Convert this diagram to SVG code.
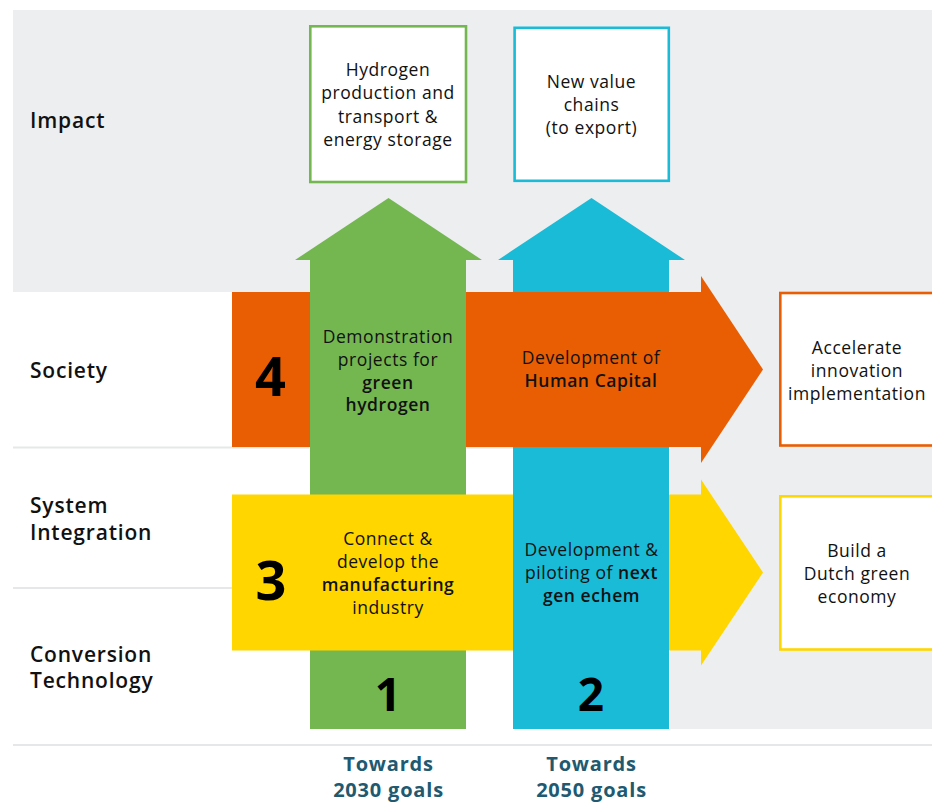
<svg xmlns="http://www.w3.org/2000/svg" width="932" height="802" viewBox="0 0 932 802">
  <style>
    .row { font-family: "Open Sans", "Noto Sans", sans-serif; font-size: 21px; font-weight: 600; fill: #111; letter-spacing: 0.8px; }
    .txt { font-family: "Open Sans", "Noto Sans", sans-serif; font-size: 17.5px; font-weight: 400; fill: #111; text-anchor: middle; letter-spacing: 0.55px; }
    .b { font-weight: 600; }
    .num { font-family: "Open Sans", "Noto Sans", sans-serif; font-weight: 700; fill: #000; text-anchor: middle; }
    .goal { font-family: "Open Sans", "Noto Sans", sans-serif; font-size: 20px; font-weight: 700; fill: #215a70; text-anchor: middle; letter-spacing: 0.8px; }
    .box { fill: #fff; stroke-width: 2.6; }
    .sep { stroke: #e6e7e8; stroke-width: 2; }
  </style>

  <!-- background bands -->
  <g id="background">
    <rect x="0" y="0" width="932" height="802" fill="#fff"/>
    <rect x="13" y="10" width="919" height="282" fill="#eceef0"/>
    <rect x="670" y="292" width="262" height="437" fill="#eceef0"/>
    <line class="sep" x1="13" y1="447.5" x2="670" y2="447.5"/>
    <line class="sep" x1="13" y1="588" x2="670" y2="588"/>
    <line class="sep" x1="13" y1="745" x2="932" y2="745"/>
  </g>

  <!-- row labels -->
  <g id="rows">
    <text class="row" x="30" y="128">Impact</text>
    <text class="row" x="30" y="378">Society</text>
    <text class="row" x="30" y="513">System</text>
    <text class="row" x="30" y="540">Integration</text>
    <text class="row" x="30" y="662">Conversion</text>
    <text class="row" x="30" y="688">Technology</text>
  </g>

  <!-- woven arrows -->
  <g id="connectors">
    <g id="arrow-2">
      <polygon points="513,729 513,260 498,260 591.5,198 685,260 669,260 669,729" fill="#19bbd7"/>
    </g>
    <g id="arrow-4">
      <polygon points="232,292 701,292 701,276 763,369.5 701,463 701,447 232,447" fill="#ea5e03"/>
      <text class="num" x="270.5" y="396" font-size="54">4</text>
      <text class="txt" x="591" y="364">Development of</text>
      <text class="txt b" x="591" y="387">Human Capital</text>
    </g>
    <g id="arrow-1">
      <polygon points="310,729 310,260 295,260 388.5,198 482,260 466,260 466,729" fill="#74b751"/>
      <text class="txt" x="388" y="342.5">Demonstration</text>
      <text class="txt" x="388" y="366">projects for</text>
      <text class="txt b" x="388" y="388.5">green</text>
      <text class="txt b" x="388" y="410.5">hydrogen</text>
      <text class="num" x="388" y="711" font-size="46">1</text>
    </g>
    <g id="arrow-3">
      <polygon points="232,494.5 701,494.5 701,479.5 763,572.5 701,665.5 701,650.5 232,650.5" fill="#ffd600"/>
      <text class="num" x="271" y="600" font-size="54">3</text>
      <text class="txt" x="388" y="545">Connect &amp;</text>
      <text class="txt" x="388" y="568">develop the</text>
      <text class="txt b" x="388" y="591">manufacturing</text>
      <text class="txt" x="388" y="614">industry</text>
    </g>
    <g id="arrow-2-front">
      <rect x="513" y="447" width="156" height="282" fill="#19bbd7"/>
      <text class="txt" x="591.5" y="556">Development &amp;</text>
      <text class="txt" x="591.5" y="579">piloting of <tspan class="b">next</tspan></text>
      <text class="txt b" x="591.5" y="602">gen echem</text>
      <text class="num" x="591" y="711" font-size="46">2</text>
    </g>
  </g>

  <!-- outcome boxes -->
  <g id="box-hydrogen">
    <rect class="box" x="310.3" y="26.3" width="155.7" height="155.7" stroke="#74b751"/>
    <text class="txt" x="388" y="76">Hydrogen</text>
    <text class="txt" x="388" y="99.3">production and</text>
    <text class="txt" x="388" y="122.6">transport &amp;</text>
    <text class="txt" x="388" y="145.6">energy storage</text>
  </g>
  <g id="box-value-chains">
    <rect class="box" x="514.6" y="27.8" width="154.2" height="153" stroke="#19bbd7"/>
    <text class="txt" x="591.5" y="88.3">New value</text>
    <text class="txt" x="591.5" y="111">chains</text>
    <text class="txt" x="591.5" y="134">(to export)</text>
  </g>
  <g id="box-accelerate">
    <rect class="box" x="780.3" y="293" width="160" height="152.5" stroke="#ea5e03"/>
    <text class="txt" x="857" y="353.5">Accelerate</text>
    <text class="txt" x="857" y="376.5">innovation</text>
    <text class="txt" x="857" y="399.5">implementation</text>
  </g>
  <g id="box-economy">
    <rect class="box" x="780.3" y="496.3" width="160" height="153.2" stroke="#ffd600"/>
    <text class="txt" x="857" y="556.7">Build a</text>
    <text class="txt" x="857" y="580">Dutch green</text>
    <text class="txt" x="857" y="603.3">economy</text>
  </g>

  <!-- goal captions -->
  <g id="goal-2030">
    <text class="goal" x="388.5" y="771">Towards</text>
    <text class="goal" x="388.5" y="797">2030 goals</text>
  </g>
  <g id="goal-2050">
    <text class="goal" x="591.5" y="771">Towards</text>
    <text class="goal" x="591.5" y="797">2050 goals</text>
  </g>
</svg>
